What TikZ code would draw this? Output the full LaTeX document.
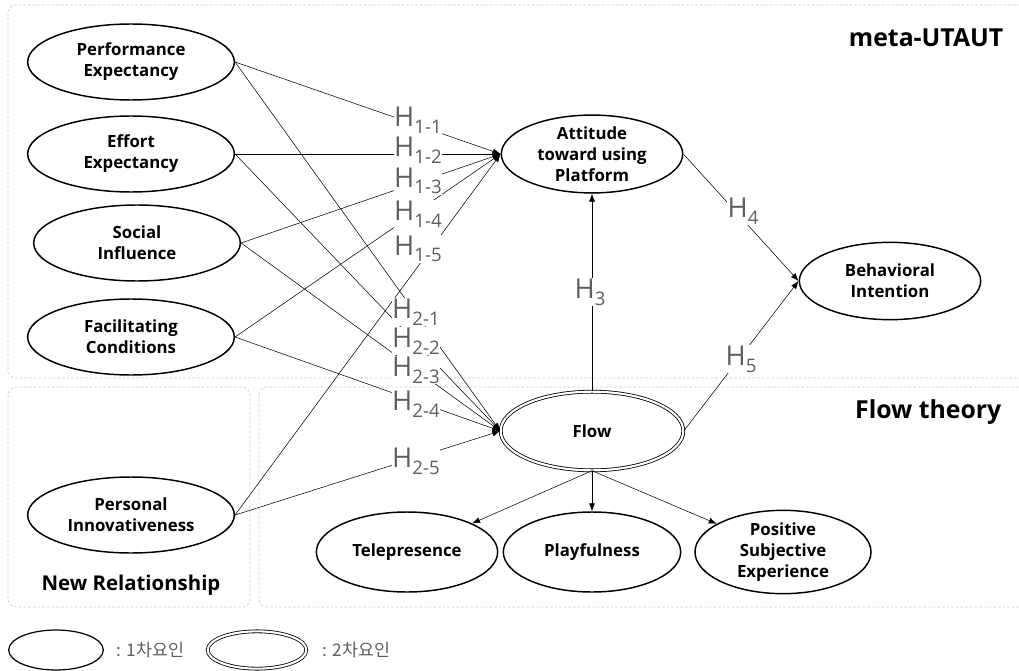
\documentclass[tikz,border=0pt]{standalone}
\usepackage{fontspec}
\setmainfont{Open Sans}
\newfontfamily\krfont{Noto Sans CJK KR}
\usetikzlibrary{arrows.meta,shapes.geometric}
\definecolor{hgray}{RGB}{95,95,95}
\definecolor{boxgray}{RGB}{205,205,205}
\newcommand{\hyp}[1]{{\fontsize{20.5}{20}\selectfont H}\raisebox{-5pt}{\fontsize{14}{14}\selectfont #1}}

\tikzset{
  factor/.style={ellipse, draw, line width=1.1pt, inner sep=0pt, align=center,
    font=\fontsize{12.6}{15.8}\selectfont\bfseries},
  second/.style={factor, double, line width=0.6pt, double distance=1.6pt},
  path/.style={line width=0.4pt, -{Latex[length=6pt,width=4.5pt]}},
  hlab/.style={fill=white, inner sep=0.5pt, text=hgray},
  group/.style={draw=boxgray, dash pattern=on 2pt off 1.5pt, rounded corners=6pt, line width=0.5pt},
  grouptitle/.style={font=\fontsize{18.6}{19}\selectfont\bfseries},
  legend/.style={text=hgray, font=\krfont\fontsize{13}{13}\selectfont, anchor=west},
}

\begin{document}
\begin{tikzpicture}[x=0.75pt,y=0.75pt,yscale=-1,xscale=1]
    \useasboundingbox (0,0) rectangle (1019,670);

    % groups
    \draw[group] (8,5) rectangle (1030,378);
    \draw[group] (8,387) rectangle (250,607);
    \draw[group] (259,387) rectangle (1030,607);
    \node[grouptitle, anchor=east] (tutaut) at (1008,38) {meta-UTAUT};
    \node[grouptitle, anchor=east] (tflow) at (1006,412) {Flow theory};
    \node[grouptitle, font=\fontsize{15.3}{16}\selectfont\bfseries] (tnew) at (131,585) {New Relationship};

    % first-order factors
    \node[factor, minimum width=155pt, minimum height=57pt] (pe) at (131,62) {Performance\\Expectancy};
    \node[factor, minimum width=155pt, minimum height=57pt] (ee) at (131,154) {Effort\\Expectancy};
    \node[factor, minimum width=155pt, minimum height=57pt] (si) at (137,243) {Social\\Influence};
    \node[factor, minimum width=155pt, minimum height=57pt] (fc) at (131,337) {Facilitating\\Conditions};
    \node[factor, minimum width=155pt, minimum height=57pt] (pi) at (131,515) {Personal\\Innovativeness};
    \node[factor, minimum width=136pt, minimum height=58pt] (att) at (592,154) {Attitude\\toward using\\Platform};
    \node[factor, minimum width=136pt, minimum height=58pt] (bi) at (890,281) {Behavioral\\Intention};
    \node[factor, minimum width=136pt, minimum height=60pt] (tel) at (407,552) {Telepresence};
    \node[factor, minimum width=133pt, minimum height=60pt] (play) at (592,552) {Playfulness};
    \node[factor, minimum width=132pt, minimum height=60pt] (pse) at (783,552) {Positive\\Subjective\\Experience};

    % second-order factor
    \node[second, minimum width=137pt, minimum height=59pt] (flow) at (592,431) {Flow};

    % paths
    \foreach \src in {pe,ee,si,fc,pi}{
      \draw[path] (\src.east) -- (att.west);
      \draw[path] (\src.east) -- (flow.west);
    }
    \draw[path] (flow.north) -- (att.south);
    \draw[path] (att.east) -- (bi.west);
    \draw[path] (flow.east) -- (bi.west);
    \foreach \dst in {tel,play,pse}
      \draw[path] (flow.south) -- (\dst);

    % hypotheses
    \foreach \i/\y in {1/120,2/150,3/181,4/214,5/249}
      \node[hlab] (h1\i) at (418,\y) {\hyp{1-\i}};
    \foreach \i/\y in {1/312,2/341,3/370,4/404,5/461}
      \node[hlab] (h2\i) at (416,\y) {\hyp{2-\i}};
    \node[hlab] (h3) at (590,292) {\hyp{3}};
    \node[hlab] (h4) at (743,211) {\hyp{4}};
    \node[hlab] (h5) at (741,359) {\hyp{5}};

    % legend
    \node[factor, line width=0.9pt, minimum width=71pt, minimum height=30pt] (l1) at (56,650) {};
    \node[legend] (l1t) at (112,650) {: 1차요인};
    \node[second, minimum width=74pt, minimum height=28pt] (l2) at (257,650) {};
    \node[legend] (l2t) at (318,650) {: 2차요인};

\end{tikzpicture}
\end{document}
